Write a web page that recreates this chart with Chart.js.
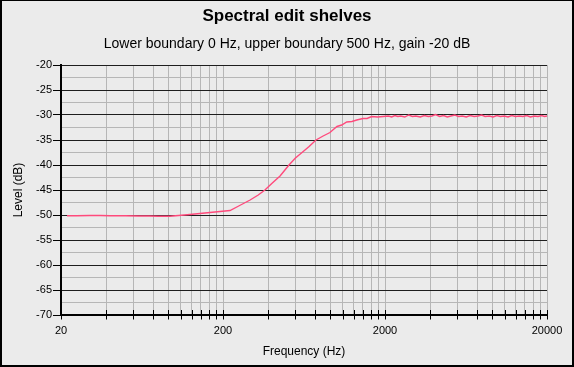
<!DOCTYPE html>
<html>
<head>
<meta charset="utf-8">
<script src="https://cdn.jsdelivr.net/npm/chart.js@4.4.0/dist/chart.umd.min.js"></script>
<style>
html,body{margin:0;padding:0;background:#ebebeb;}
#wrap{position:relative;width:574px;height:367px;background:#ebebeb;overflow:hidden;font-family:"Liberation Sans",Arial,Helvetica,sans-serif;}
#c{position:absolute;left:0;top:0;}
.t{position:absolute;left:0;width:574px;text-align:center;line-height:1;white-space:nowrap;color:#000;}
#title{top:7.3px;font-size:17px;font-weight:bold;}
#sub{top:35.5px;font-size:14px;}
#frame{position:absolute;left:0;top:0;width:574px;height:367px;border:2px solid #000;border-top-width:1px;box-sizing:border-box;pointer-events:none;}
</style>
</head>
<body>
<div id="wrap">
<canvas id="c" width="574" height="367"></canvas>
<div class="t" id="title"></div>
<div class="t" id="sub"></div>
<div id="frame"></div>
</div>
<script>
const titleText = "Spectral edit shelves";
const subtitleText = "Lower boundary 0 Hz, upper boundary 500 Hz, gain -20 dB";
const xAxisTitle = "Frequency (Hz)";
const yAxisTitle = "Level (dB)";

// Frequencies (Hz) and levels (dB)
const freqs = [21.8, 25, 30, 35, 40, 50, 60, 70, 80, 94, 125, 166, 221, 250, 294, 330, 363, 400, 450, 511, 560, 615, 680, 750, 830, 915, 960, 1011, 1081, 1161, 1250, 1338, 1462, 1550, 1656, 1800, 1944,
  2100, 2200, 2300, 2400, 2500, 2650, 2800, 2950, 3100, 3300, 3500, 3700, 3900, 4100, 4350, 4600, 4850, 5100, 5400, 5700, 6000, 6350, 6700, 7100, 7500, 7900, 8300, 8800, 9300, 9800, 10300, 10900, 11500, 12100, 12800, 13500, 14200, 15000, 15800, 16700, 17600, 18500, 19300, 20000];
const levels = [-50.15, -50.15, -50.1, -50.1, -50.15, -50.15, -50.2, -50.2, -50.25, -50.25, -49.9, -49.5, -49.1, -48.2, -47.0, -46.0, -45.0, -43.7, -42.2, -40.0, -38.6, -37.5, -36.3, -35.0, -34.2, -33.5, -32.9, -32.3, -32.0, -31.4, -31.3, -31.0, -30.7, -30.7, -30.3, -30.4, -30.3,
  -30.2, -30.4, -30.1, -30.3, -30.2, -30.4, -30.0, -30.3, -30.2, -30.4, -30.1, -30.3, -30.2, -29.9, -30.3, -30.1, -30.4, -30.2, -30.0, -30.3, -30.2, -30.4, -30.1, -30.3, -30.2, -30.0, -30.3, -30.2, -30.4, -30.1, -30.3, -30.2, -30.4, -30.1, -30.3, -30.2, -30.3, -30.1, -30.4, -30.2, -30.3, -30.1, -30.3, -30.2, -30.3];

// Axis ticks
const xTicks = [20, 38, 56, 74, 92, 110, 128, 146, 164, 182, 200, 380, 560, 740, 920, 1100, 1280, 1460, 1640, 1820, 2000, 3800, 5600, 7400, 9200, 11000, 12800, 14600, 16400, 18200, 20000];
const xTickLabels = [20, 200, 2000, 20000];
const yTicks = [-70, -67.5, -65, -62.5, -60, -57.5, -55, -52.5, -50, -47.5, -45, -42.5, -40, -37.5, -35, -32.5, -30, -27.5, -25, -22.5, -20];
const yTickLabels = [-70, -65, -60, -55, -50, -45, -40, -35, -30, -25, -20];

document.getElementById('title').textContent = titleText;
document.getElementById('sub').textContent = subtitleText;

Chart.defaults.font.family = '"Liberation Sans", Arial, Helvetica, sans-serif';
Chart.defaults.color = '#000';

const tickMarks = {
  id: 'tickMarks',
  afterDraw(chart) {
    const {ctx, chartArea, scales: {x}} = chart;
    ctx.save();
    ctx.strokeStyle = '#000';
    ctx.lineWidth = 1;
    ctx.beginPath();
    x.ticks.forEach(t => {
      const px = Math.round(x.getPixelForValue(t.value)) + 0.5;
      ctx.moveTo(px, chartArea.bottom - 5);
      ctx.lineTo(px, chartArea.bottom + 4.5);
    });
    ctx.stroke();
    ctx.restore();
  }
};

const isMajor = v => yTickLabels.includes(v);
const minorGrid = '#b6b6b6';

new Chart(document.getElementById('c'), {
  type: 'line',
  data: {
    datasets: [{
      data: freqs.map((f, i) => ({x: f, y: levels[i]})),
      borderColor: '#ff4a7c',
      borderWidth: 1.4,
      pointRadius: 0,
      tension: 0,
      fill: false
    }]
  },
  options: {
    responsive: false,
    animation: false,
    devicePixelRatio: 1,
    layout: {padding: {left: 0, right: 27, top: 65, bottom: 0}},
    plugins: {legend: {display: false}, tooltip: {enabled: false}, title: {display: false}},
    scales: {
      x: {
        type: 'logarithmic',
        min: 20, max: 20000,
        afterBuildTicks: s => { s.ticks = xTicks.map(v => ({value: v})); },
        afterFit: s => { s.height = 52; },
        ticks: {
          autoSkip: false, maxRotation: 0, minRotation: 0, padding: 5,
          color: '#000', font: {size: 11},
          callback: v => xTickLabels.includes(v) ? String(v) : ''
        },
        grid: {color: minorGrid, lineWidth: 1, drawTicks: true, tickLength: 4, tickColor: 'rgba(0,0,0,0)'},
        border: {display: true, color: '#000', width: 2},
        title: {display: true, text: xAxisTitle, color: '#000', font: {size: 12}, padding: {top: 0, bottom: 8}}
      },
      y: {
        type: 'linear',
        min: -70, max: -20,
        afterBuildTicks: s => { s.ticks = yTicks.map(v => ({value: v})); },
        afterFit: s => { s.width = 61; },
        ticks: {
          autoSkip: false, padding: 1, color: '#000', font: {size: 11},
          callback: v => isMajor(v) ? String(v) : ''
        },
        grid: {
          color: c => (c.tick && isMajor(c.tick.value)) ? '#1e1e1e' : minorGrid,
          lineWidth: 1,
          drawTicks: true, tickLength: 8,
          tickColor: c => (c.tick && isMajor(c.tick.value)) ? '#000' : 'rgba(0,0,0,0)'
        },
        border: {display: true, color: '#000', width: 2},
        title: {display: true, text: yAxisTitle, color: '#000', font: {size: 12}, padding: {top: 11, bottom: 0}}
      }
    }
  },
  plugins: [tickMarks]
});
</script>
</body>
</html>
